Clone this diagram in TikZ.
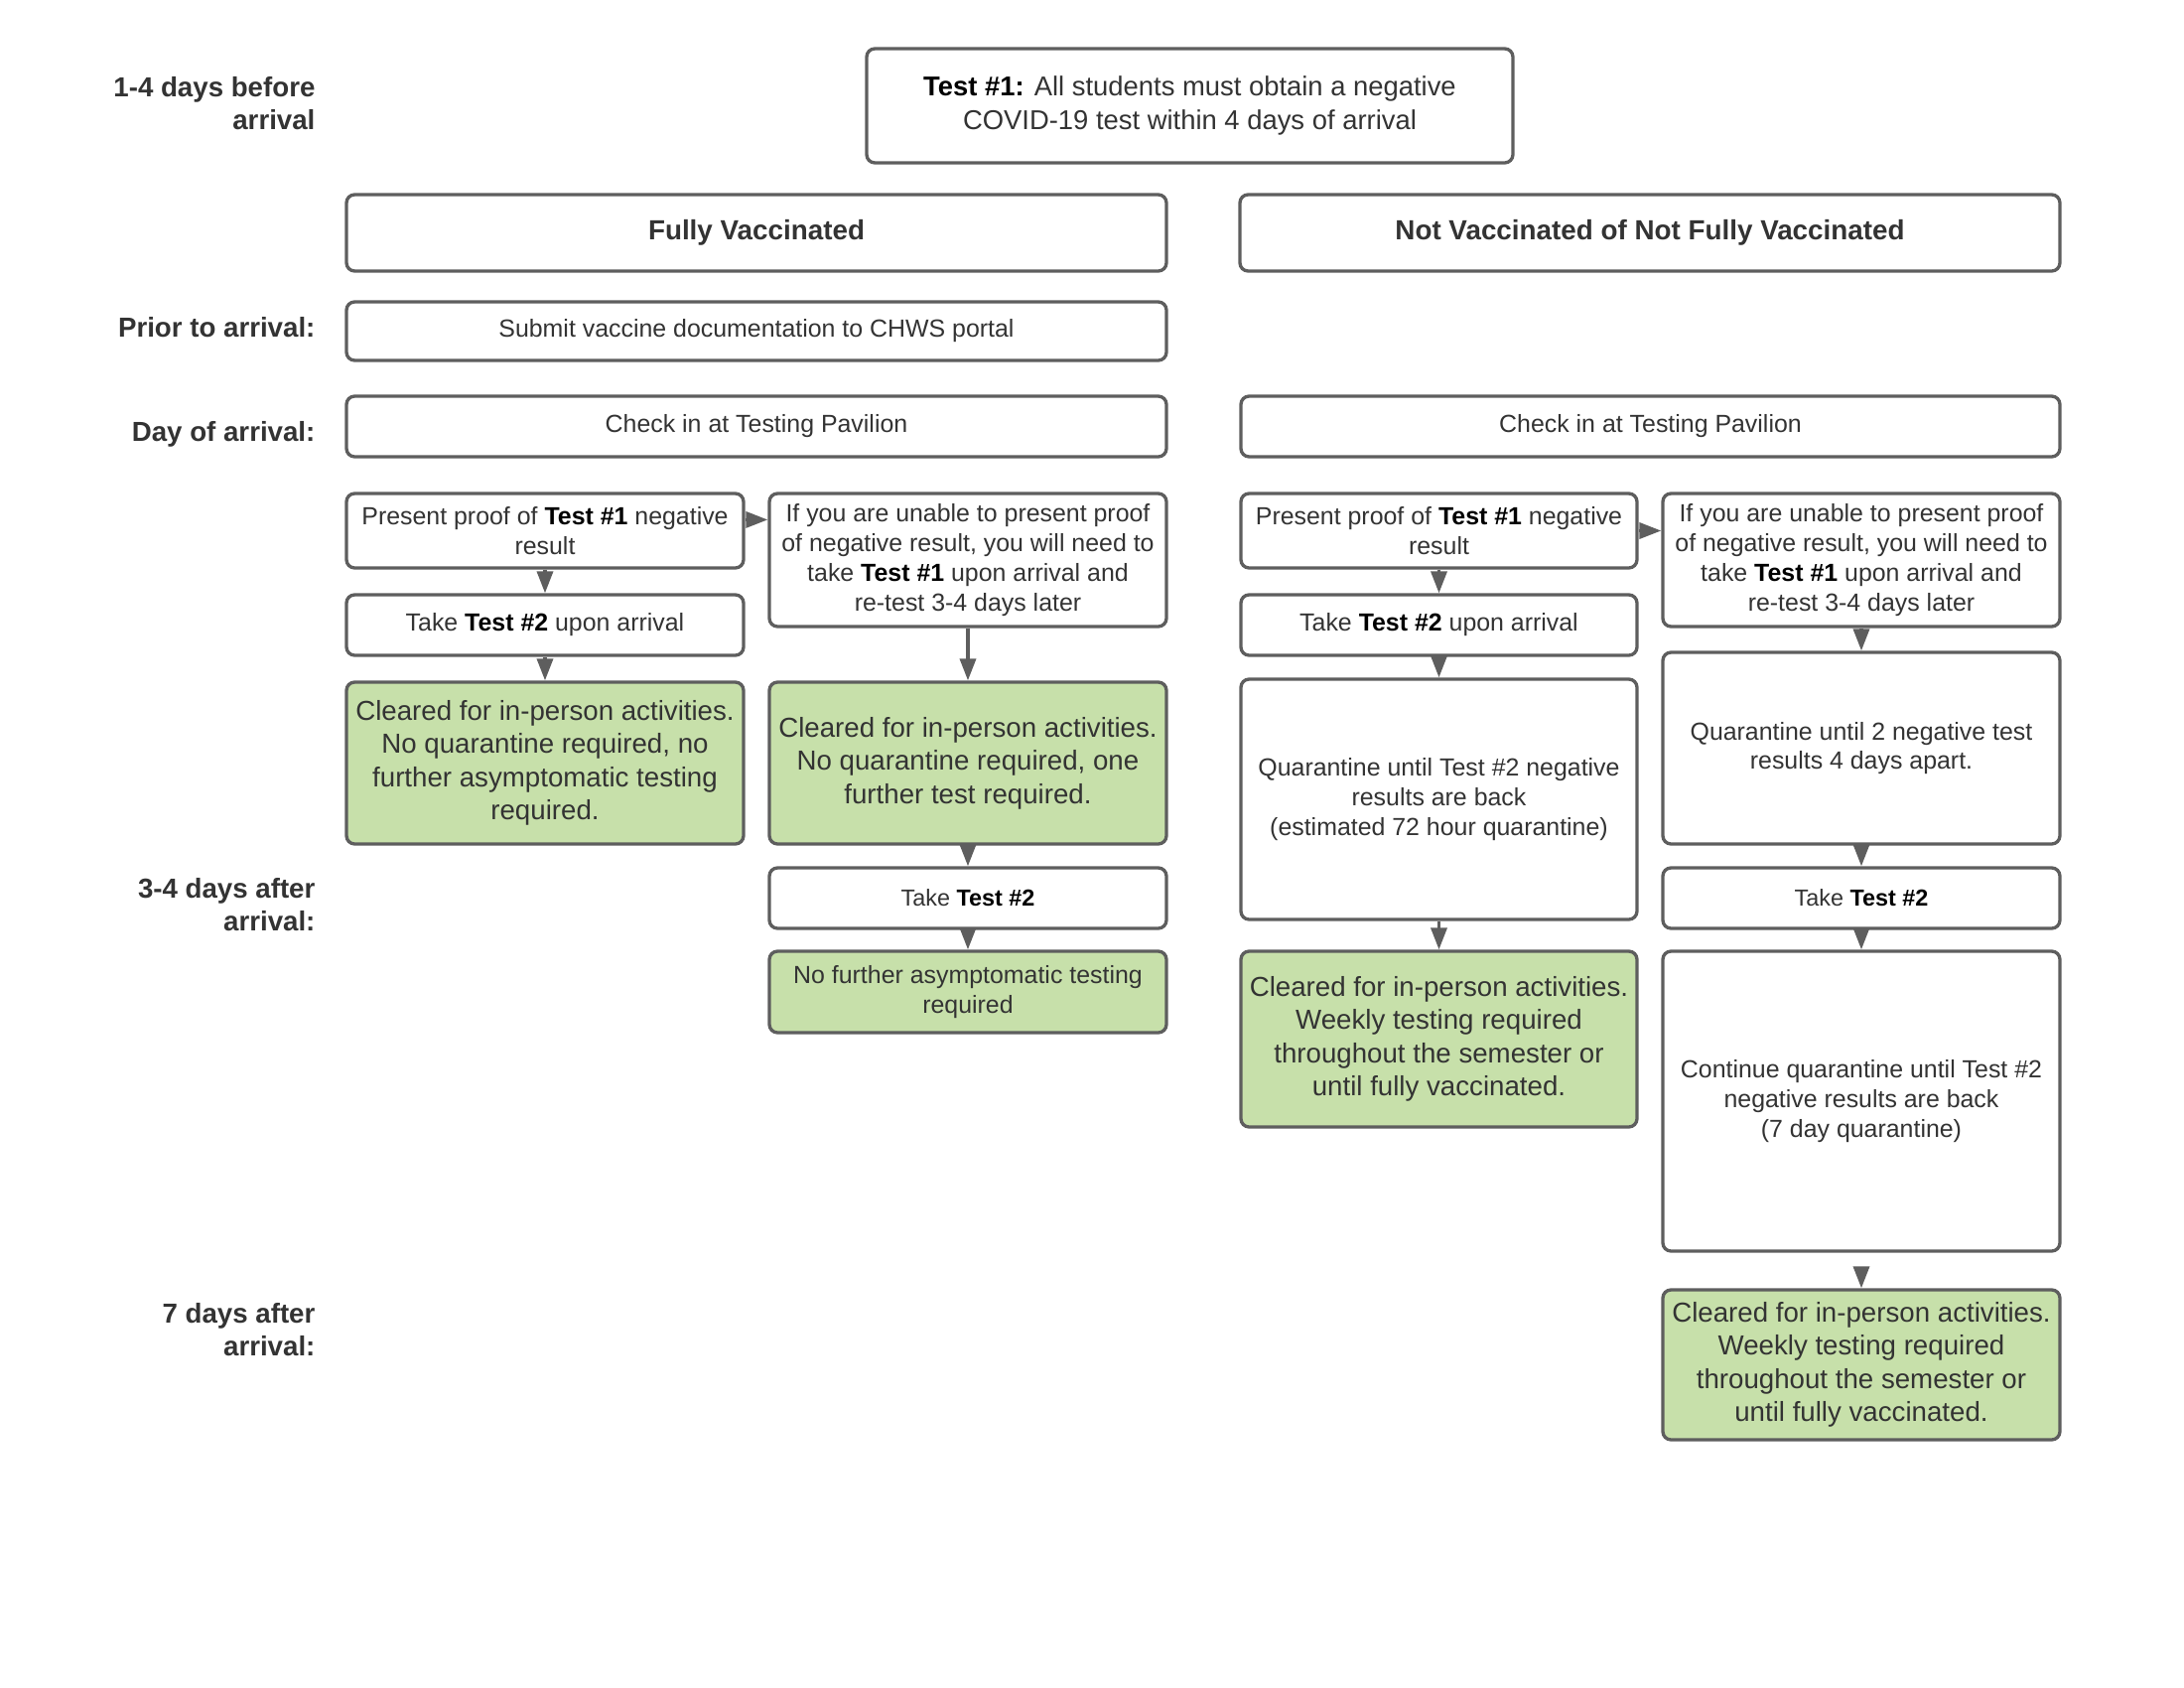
\documentclass[tikz,border=0pt]{standalone}
\usepackage{fontspec}
\setmainfont{Liberation Sans}
\usetikzlibrary{arrows.meta}
\definecolor{edgec}{RGB}{94,94,94}
\definecolor{txtc}{RGB}{51,51,51}
\definecolor{gfill}{RGB}{199,224,170}
\newcommand{\bxnode}[7]{\node[#6, minimum width={(#4-#2)*0.36135pt}, minimum height={(#5-#3)*0.36135pt}] (#1) at ({(#2+#4)/2},{(#3+#5)/2}) {#7};}
\newcommand{\tb}[1]{\textcolor{black}{\bfseries #1}}
\begin{document}
\begin{tikzpicture}[x=0.36135pt,y=-0.36135pt,
  box/.style={draw=edgec, line width=1.2pt, rounded corners=3pt, fill=white, text=txtc, inner sep=0pt, align=center, font=\fontsize{9.0}{10.8}\selectfont},
  greenbox/.style={box, fill=gfill, font=\fontsize{10}{12.1}\selectfont},
  headbox/.style={box, font=\fontsize{10.05}{12.3}\bfseries\selectfont},
  lbl/.style={anchor=east, align=right, text=txtc, inner sep=0pt, font=\fontsize{10}{12.2}\bfseries\selectfont},
  arr/.style={draw=edgec, line width=1.2pt, -{Triangle[length=7.95pt,width=5.8pt]}}
]
\useasboundingbox (0,0) rectangle (2200,1700);

% time labels
\node[lbl] (l1) at (318,104) {1-4 days before\\arrival};
\node[lbl] (l2) at (318,330) {Prior to arrival:};
\node[lbl] (l3) at (318,437) {Day of arrival:};
\node[lbl] (l4) at (318,911) {3-4 days after\\arrival:};
\node[lbl] (l5) at (318,1339) {7 days after\\arrival:};

% top
\bxnode{T1}{873}{49}{1524}{164}{box, font=\fontsize{9.9}{12.3}\selectfont}{\tb{Test \#1:} All students must obtain a negative\\COVID-19 test within 4 days of arrival}
\bxnode{HF}{349}{196}{1175}{273}{headbox}{Fully Vaccinated}
\bxnode{HN}{1249}{196}{2075}{273}{headbox}{Not Vaccinated of Not Fully Vaccinated}
\bxnode{SUB}{349}{304}{1175}{363}{box}{Submit vaccine documentation to CHWS portal}
\bxnode{CL}{349}{399}{1175}{460}{box}{Check in at Testing Pavilion}
\bxnode{CR}{1250}{399}{2075}{460}{box}{Check in at Testing Pavilion}

% fully vaccinated
\bxnode{PL}{349}{497}{749}{572}{box}{Present proof of \tb{Test \#1} negative\\result}
\bxnode{IUL}{775}{497}{1175}{631}{box}{If you are unable to present proof\\of negative result, you will need to\\take \tb{Test \#1} upon arrival and\\re-test 3-4 days later}
\bxnode{TL}{349}{599}{749}{660}{box}{Take \tb{Test \#2} upon arrival}
\bxnode{GA}{349}{687}{749}{850}{greenbox}{Cleared for in-person activities.\\No quarantine required, no\\further asymptomatic testing\\required.}
\bxnode{GB}{775}{687}{1175}{850}{greenbox}{Cleared for in-person activities.\\No quarantine required, one\\further test required.}
\bxnode{TB}{775}{874}{1175}{935}{box, font=\fontsize{8.45}{10.8}\selectfont}{Take \tb{Test \#2}}
\bxnode{NF}{775}{958}{1175}{1040}{box, fill=gfill, font=\fontsize{9.0}{10.6}\selectfont}{No further asymptomatic testing\\required}

% not vaccinated
\bxnode{PR}{1250}{497}{1649}{572}{box}{Present proof of \tb{Test \#1} negative\\result}
\bxnode{IUR}{1675}{497}{2075}{631}{box}{If you are unable to present proof\\of negative result, you will need to\\take \tb{Test \#1} upon arrival and\\re-test 3-4 days later}
\bxnode{TR}{1250}{599}{1649}{660}{box}{Take \tb{Test \#2} upon arrival}
\bxnode{QC}{1250}{684}{1649}{926}{box}{Quarantine until Test \#2 negative\\results are back\\(estimated 72 hour quarantine)}
\bxnode{QD}{1675}{657}{2075}{850}{box}{Quarantine until 2 negative test\\results 4 days apart.}
\bxnode{TD}{1675}{874}{2075}{935}{box, font=\fontsize{8.45}{10.8}\selectfont}{Take \tb{Test \#2}}
\bxnode{GC}{1250}{958}{1649}{1135}{greenbox}{Cleared for in-person activities.\\Weekly testing required\\throughout the semester or\\until fully vaccinated.}
\bxnode{CD}{1675}{958}{2075}{1260}{box}{Continue quarantine until Test \#2\\negative results are back\\(7 day quarantine)}
\bxnode{GD}{1675}{1299}{2075}{1450}{greenbox}{Cleared for in-person activities.\\Weekly testing required\\throughout the semester or\\until fully vaccinated.}

% arrows
\coordinate (pa) at ([yshift=4pt]PL.east);
\draw[arr] (pa) -- (pa -| IUL.west);
\draw[arr] (PR.east) -- (PR.east -| IUR.west);
\draw[arr] (PL) -- (TL);
\draw[arr] (TL) -- (GA);
\draw[arr] (IUL) -- (GB);
\draw[arr] (GB) -- (TB);
\draw[arr] (TB) -- (NF);
\draw[arr] (PR) -- (TR);
\draw[arr] (TR) -- (QC);
\draw[arr] (QC) -- (GC);
\draw[arr] (IUR) -- (QD);
\draw[arr] (QD) -- (TD);
\draw[arr] (TD) -- (CD);
\draw[arr, shorten <=5pt] (CD) -- (GD);
\end{tikzpicture}
\end{document}
